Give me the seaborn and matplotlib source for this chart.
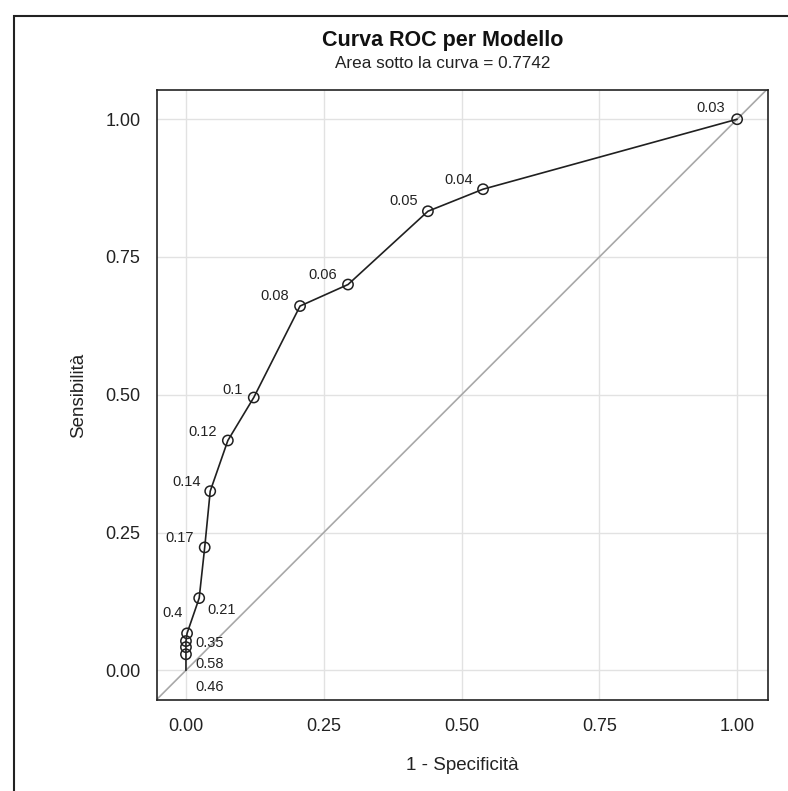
import numpy as np
import pandas as pd
import matplotlib
matplotlib.use("Agg")
import matplotlib.pyplot as plt
import seaborn as sns
from matplotlib.patches import Rectangle

# Punti della curva ROC
fpr = [0.0, 0.000, 0.000, 0.000, 0.002, 0.024, 0.034, 0.044, 0.076, 0.123, 0.207, 0.294, 0.439, 0.539, 1.000]
tpr = [0.0, 0.029, 0.042, 0.053, 0.067, 0.131, 0.223, 0.325, 0.417, 0.495, 0.661, 0.700, 0.833, 0.873, 1.000]
soglie = ["", "0.58", "0.46", "0.4", "0.35", "0.21", "0.17", "0.14", "0.12", "0.1", "0.08", "0.06", "0.05", "0.04", "0.03"]
# spostamento delle etichette (pixel)
offset = [(0, 0), (24, -10), (24, -40), (-13, 28), (23, -10), (22, -12), (-25, 9), (-24, 9),
          (-25, 8), (-21, 8), (-25, 10), (-25, 10), (-24, 10), (-24, 9), (-26, 11)]

titolo = "Curva ROC per Modello"
sottotitolo = "Area sotto la curva = 0.7742"

df = pd.DataFrame({"fpr": fpr, "tpr": tpr, "soglia": soglie})
punti = df[df["soglia"] != ""]

sns.set_theme(style="whitegrid")
plt.rcParams["font.family"] = ["Liberation Sans", "DejaVu Sans"]

fig = plt.figure(figsize=(7.88, 7.91), dpi=100)
ax = fig.add_axes([0.1992, 0.115, 0.7754, 0.7712])

diag = pd.DataFrame({"x": [-0.06, 1.06], "y": [-0.06, 1.06]})
sns.lineplot(data=diag, x="x", y="y", ax=ax, color="#a8a8a8", linewidth=1.2)
sns.lineplot(data=df, x="fpr", y="tpr", ax=ax, sort=False, estimator=None,
             color="#202020", linewidth=1.2)
sns.scatterplot(data=punti, x="fpr", y="tpr", ax=ax, s=55, marker="o",
                facecolor="none", edgecolor="#202020", linewidth=1.1, zorder=5)

for (_, r), (dx, dy) in zip(df.iterrows(), offset):
    if r["soglia"]:
        ax.annotate(r["soglia"], (r["fpr"], r["tpr"]), xytext=(dx, dy),
                    textcoords="offset pixels", ha="center", va="center",
                    fontsize=10.5, color="#222222")

ax.set_xlim(-0.0526, 1.056)
ax.set_ylim(-0.054, 1.053)
ticks = [0, 0.25, 0.5, 0.75, 1.0]
ax.set_xticks(ticks)
ax.set_yticks(ticks)
ax.set_xticklabels(["0.00", "0.25", "0.50", "0.75", "1.00"])
ax.set_yticklabels(["0.00", "0.25", "0.50", "0.75", "1.00"])
ax.tick_params(axis="both", which="major", labelsize=13, length=8, width=1,
               color="#222222", labelcolor="#222222", direction="out")
ax.tick_params(axis="x", pad=5)
ax.tick_params(axis="y", pad=4)
ax.grid(True, color="#e2e2e2", linewidth=1)
for s in ax.spines.values():
    s.set_color("#222222")
    s.set_linewidth(1.2)
ax.set_xlabel("1 - Specificità", fontsize=13.5, color="#222222", labelpad=16)
ax.set_ylabel("Sensibilità", fontsize=13.5, color="#222222", labelpad=13)

fig.text(0.562, 0.949, titolo, ha="center", va="center", fontsize=15.5, fontweight="bold", color="#111111")
fig.text(0.562, 0.920, sottotitolo, ha="center", va="center", fontsize=12.3, color="#222222")

# cornice esterna
fig.patches.append(Rectangle((0.0178, -0.02), 1.1, 0.9998, transform=fig.transFigure,
                             fill=False, edgecolor="#222222", linewidth=1.5))

fig.savefig("out.png", dpi=100)
